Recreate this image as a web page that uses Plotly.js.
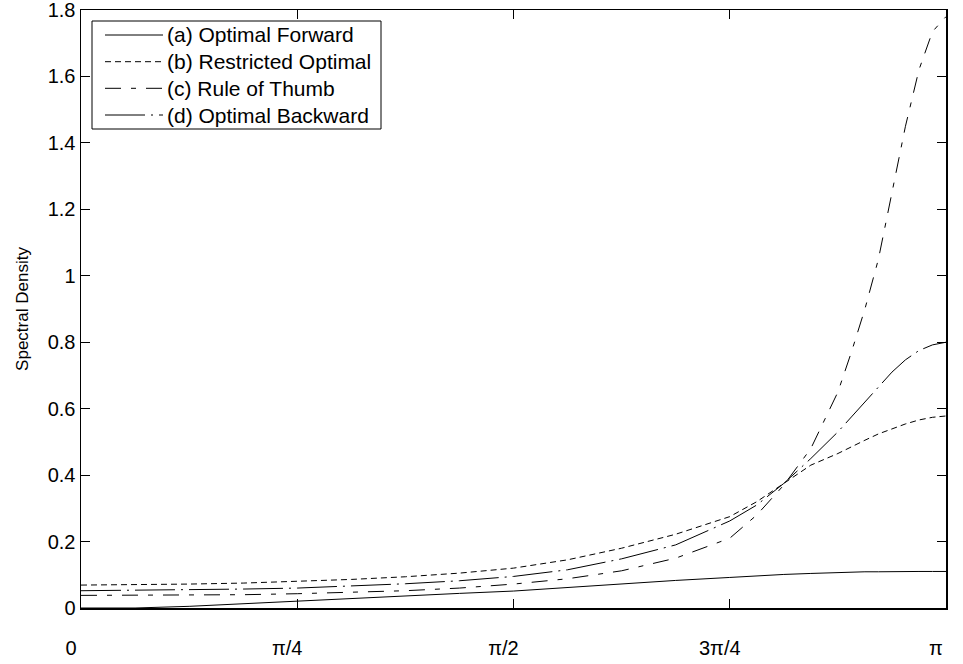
<!DOCTYPE html>
<html>
<head>
<meta charset="utf-8">
<script src="https://cdn.plot.ly/plotly-3.0.1.min.js"></script>
<style>html,body{margin:0;padding:0;background:#fff;}#chart{width:963px;height:664px;}</style>
</head>
<body>
<div id="chart"></div>
<script>
// x positions in units of pi
var xPi = [0, 0.0625, 0.125, 0.1875, 0.25, 0.3125, 0.375, 0.4375, 0.5, 0.5625, 0.625, 0.6875, 0.75, 0.78125, 0.8125, 0.84375, 0.875, 0.890625, 0.90625, 0.921875, 0.9375, 0.953125, 0.96875, 0.984375, 1];

var optimalForward    = [0.000, 0.000, 0.005, 0.013, 0.022, 0.029, 0.037, 0.044, 0.051, 0.062, 0.073, 0.083, 0.092, 0.097, 0.101, 0.104, 0.107, 0.108, 0.109, 0.109, 0.110, 0.110, 0.110, 0.110, 0.110];
var restrictedOptimal = [0.069, 0.070, 0.072, 0.075, 0.080, 0.086, 0.094, 0.105, 0.120, 0.145, 0.180, 0.222, 0.275, 0.320, 0.375, 0.430, 0.465, 0.486, 0.505, 0.524, 0.540, 0.554, 0.566, 0.574, 0.578];
var ruleOfThumb       = [0.038, 0.038, 0.039, 0.040, 0.043, 0.047, 0.052, 0.060, 0.072, 0.088, 0.112, 0.150, 0.210, 0.280, 0.370, 0.480, 0.650, 0.770, 0.900, 1.050, 1.255, 1.450, 1.620, 1.735, 1.780];
var optimalBackward   = [0.052, 0.053, 0.055, 0.057, 0.060, 0.066, 0.073, 0.082, 0.095, 0.115, 0.148, 0.190, 0.262, 0.310, 0.375, 0.450, 0.530, 0.575, 0.620, 0.668, 0.710, 0.747, 0.775, 0.792, 0.800];

var seriesNames = ['(a) Optimal Forward', '(b) Restricted Optimal', '(c) Rule of Thumb', '(d) Optimal Backward'];
var seriesDash = ['solid', '6px,4px', '16px,10px,5px,10px', '40px,6px,2px,6px'];
var xTickVals = [0, 0.25, 0.5, 0.75, 1];
var xTickText = ['0', 'π/4', 'π/2', '3π/4', 'π'];
var yTickVals = [0, 0.2, 0.4, 0.6, 0.8, 1, 1.2, 1.4, 1.6, 1.8];

var FONT = 'Liberation Sans, Arial, Helvetica, sans-serif';
var W = 963, H = 664, ML = 81, MR = 17, MT = 10, MB = 56;
var PW = W - ML - MR, PH = H - MT - MB;
function px(xp) { return (xp - ML) / PW; }
function py(yp) { return (H - MB - yp) / PH; }

var seriesData = [optimalForward, restrictedOptimal, ruleOfThumb, optimalBackward];
var traces = seriesData.map(function (ys, i) {
  return {x: xPi, y: ys, name: seriesNames[i], mode: 'lines', showlegend: false,
          line: {color: '#000', width: 1, dash: seriesDash[i]}};
});

// hand-built legend (MATLAB style: long line samples)
var legBox = {x0: 92, y0: 21, x1: 381, y1: 129};
var rowY = [35, 61.7, 88.3, 115];
var shapes = [{type: 'rect', xref: 'paper', yref: 'paper',
  x0: px(legBox.x0), x1: px(legBox.x1), y0: py(legBox.y1), y1: py(legBox.y0),
  line: {color: '#000', width: 1}, fillcolor: '#fff', layer: 'above'}];
var annotations = [];
seriesNames.forEach(function (nm, i) {
  shapes.push({type: 'line', xref: 'paper', yref: 'paper',
    x0: px(105), x1: px(163), y0: py(rowY[i]), y1: py(rowY[i]),
    line: {color: '#000', width: 1, dash: seriesDash[i]}, layer: 'above'});
  annotations.push({xref: 'paper', yref: 'paper', x: px(166), y: py(rowY[i]),
    xanchor: 'left', yanchor: 'middle', text: nm, showarrow: false,
    font: {family: FONT, size: 21, color: '#000'}, borderpad: 0});
});

var layout = {
  width: W, height: H,
  margin: {l: ML, r: MR, t: MT, b: MB, pad: 0},
  paper_bgcolor: '#fff', plot_bgcolor: '#fff',
  font: {family: FONT, size: 20, color: '#000'},
  showlegend: false,
  shapes: shapes,
  annotations: annotations,
  xaxis: {
    range: [0, 1], tickmode: 'array', tickvals: xTickVals, ticktext: xTickText,
    ticks: 'inside', ticklen: 9, tickcolor: '#000', tickwidth: 1,
    showline: true, linecolor: '#000', linewidth: 1.5, mirror: 'allticks',
    showgrid: false, zeroline: false, fixedrange: true,
    ticklabelstandoff: 21, ticklabelshift: -10, ticklabeloverflow: 'allow',
    tickfont: {family: FONT, size: 20, color: '#000'}
  },
  yaxis: {
    range: [0, 1.8], tickmode: 'array', tickvals: yTickVals,
    ticks: 'inside', ticklen: 9, tickcolor: '#000', tickwidth: 1,
    showline: true, linecolor: '#000', linewidth: 1.5, mirror: 'allticks',
    showgrid: false, zeroline: false, fixedrange: true, ticklabeloverflow: 'allow',
    tickfont: {family: FONT, size: 20, color: '#000'},
    title: {text: 'Spectral Density', font: {family: FONT, size: 17, color: '#000'}, standoff: 14}
  }
};

Plotly.newPlot('chart', traces, layout, {displayModeBar: false, staticPlot: true});
</script>
</body>
</html>
